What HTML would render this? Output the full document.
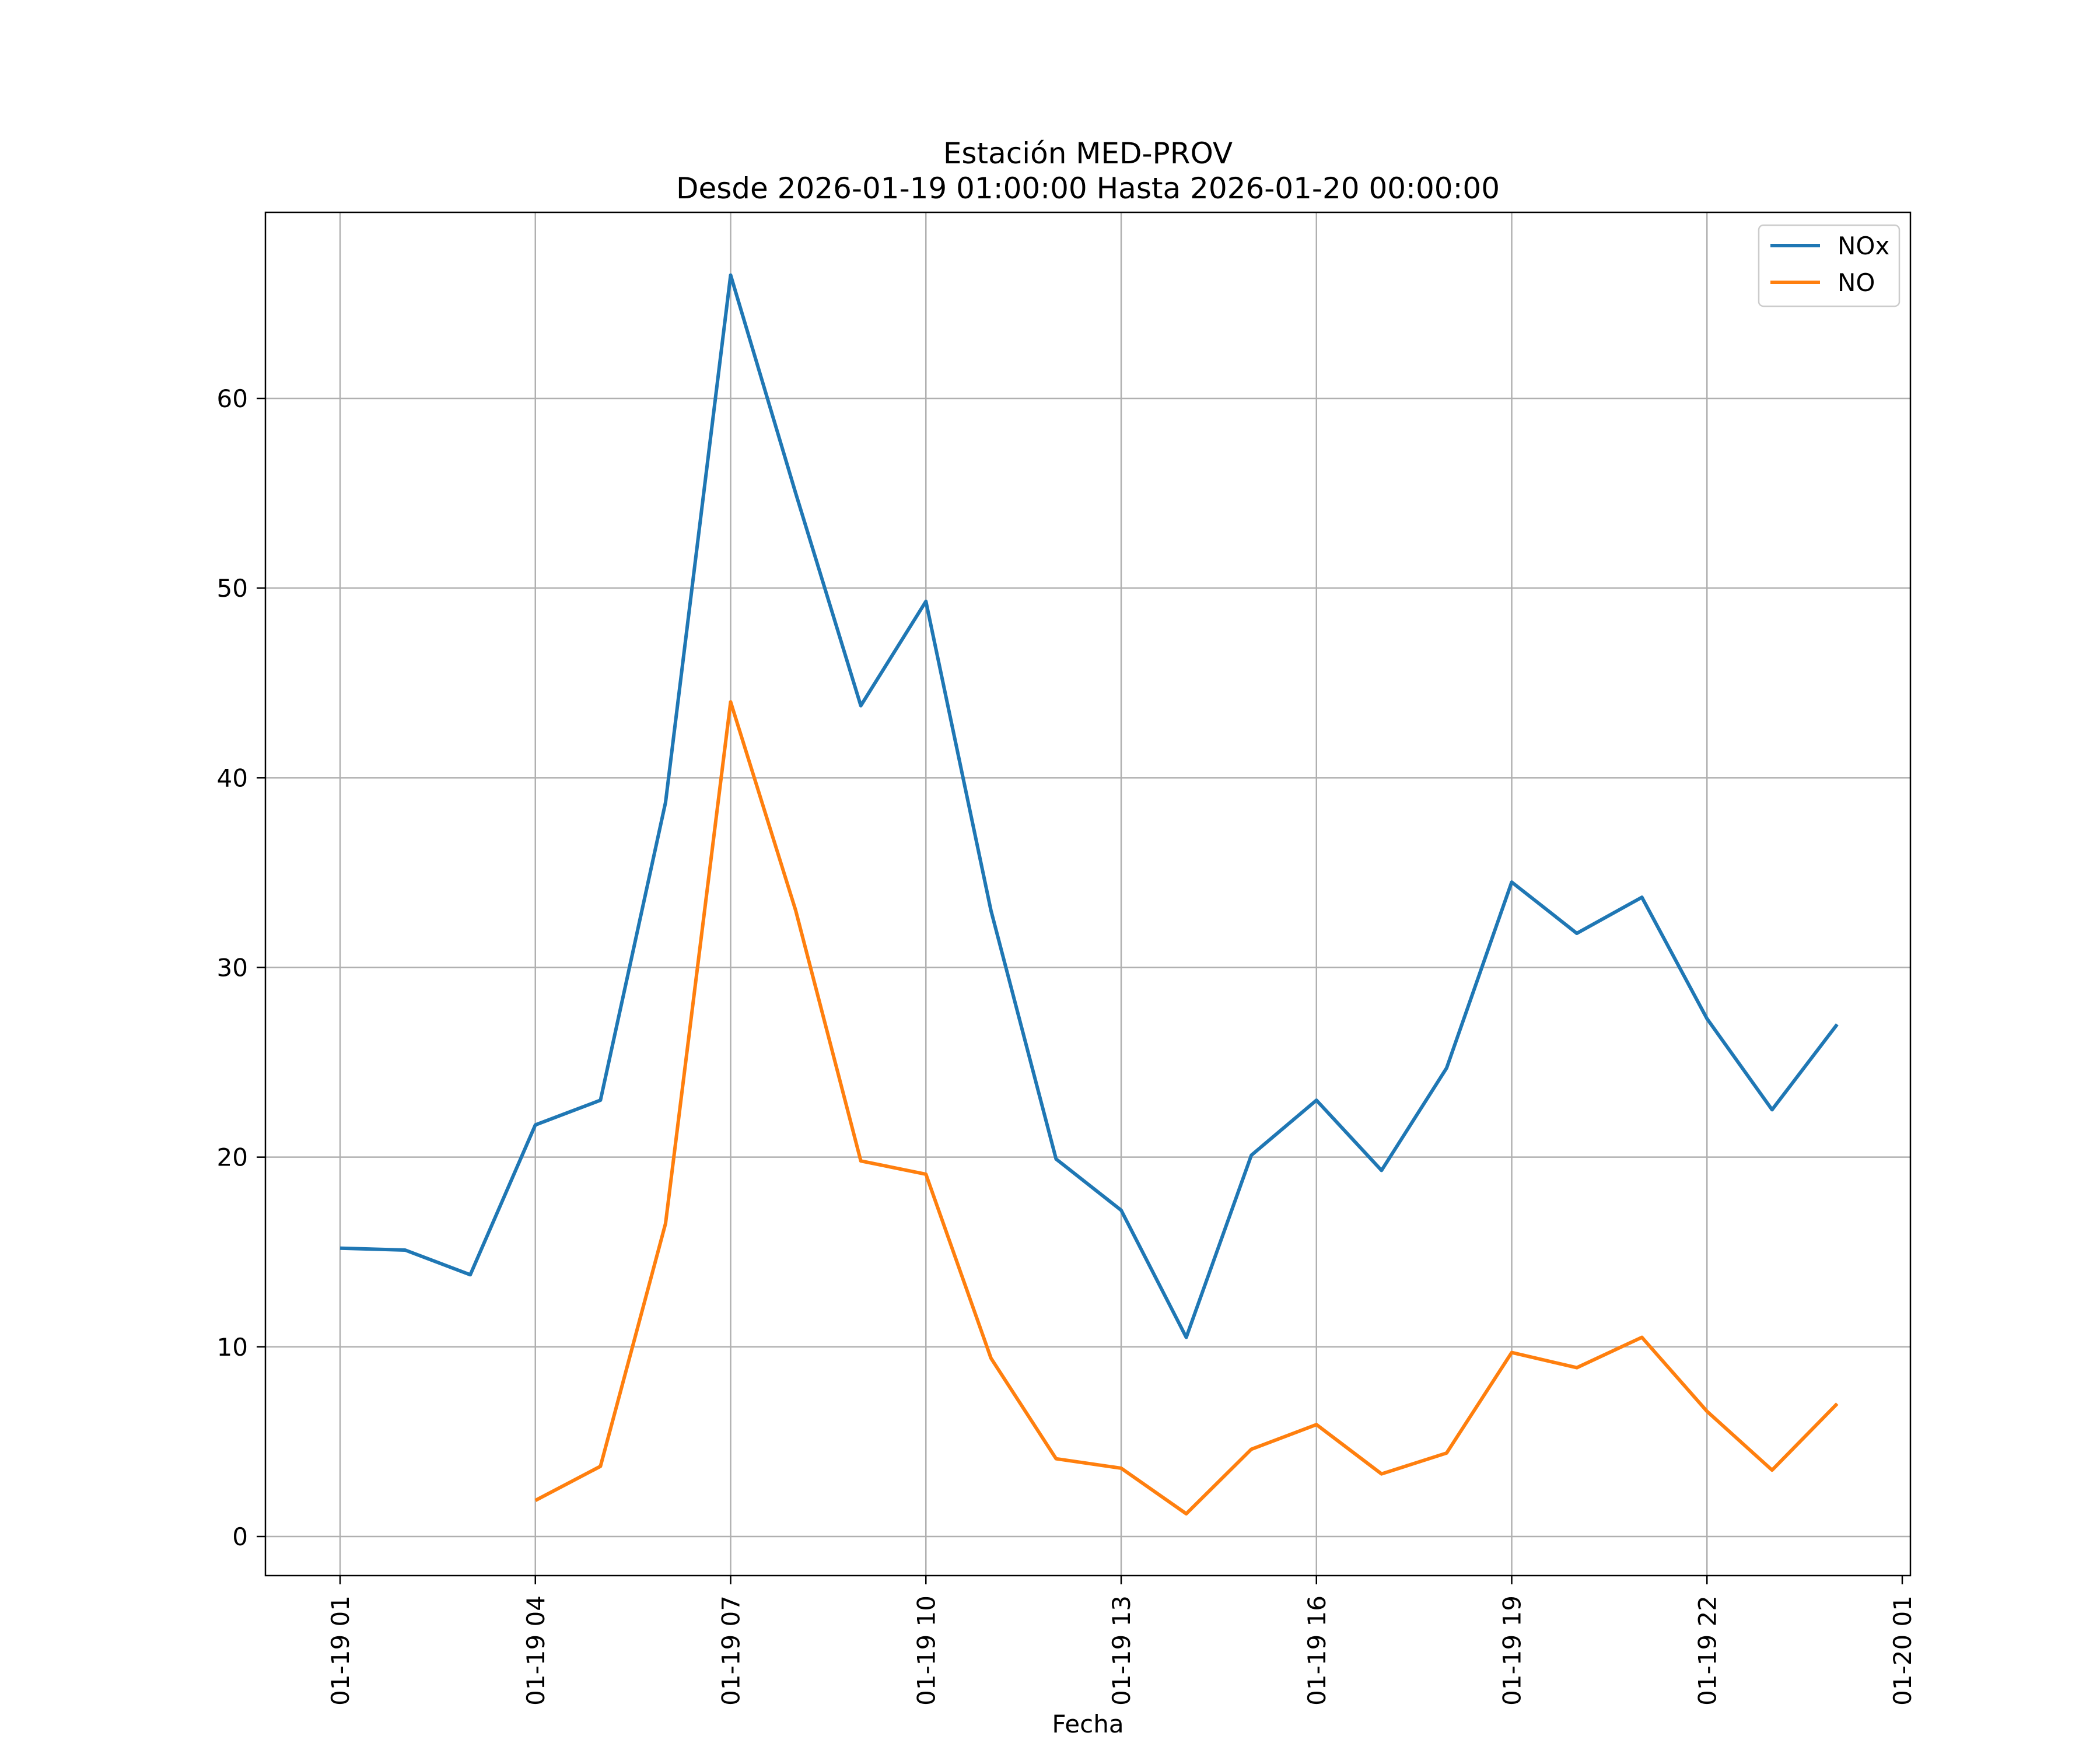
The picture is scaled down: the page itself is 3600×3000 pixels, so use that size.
<!DOCTYPE html>
<html><head><meta charset="utf-8"><style>
body{margin:0;background:#fff}
svg{display:block;font-family:"DejaVu Sans","Liberation Sans",sans-serif}
</style></head><body>
<svg id="chart" width="3600" height="3000" viewBox="0 0 3600 3000">
<rect width="3600" height="3000" fill="#fff"/>
<g id="grid"></g>
<g id="series"></g>
<rect x="455" y="364" width="2820" height="2337" fill="none" stroke="#000" stroke-width="2.5"/>
<g id="ticks"></g>
<text x="1865" y="280" font-size="50" text-anchor="middle">Estación MED-PROV</text>
<text x="1865" y="340" font-size="50" text-anchor="middle">Desde 2026-01-19 01:00:00 Hasta 2026-01-20 00:00:00</text>
<text x="1865" y="2970" font-size="42" text-anchor="middle">Fecha</text>
<g>
<rect x="3015" y="386" width="241" height="139" rx="8" fill="#fff" stroke="#ccc" stroke-width="2.5"/>
<line x1="3035" y1="421" x2="3120" y2="421" stroke="#1f77b4" stroke-width="6"/>
<text x="3150" y="436" font-size="42">NOx</text>
<line x1="3035" y1="484" x2="3120" y2="484" stroke="#ff7f0e" stroke-width="6"/>
<text x="3150" y="499" font-size="42">NO</text>
</g>
</svg>
<script>
const hours=[0,1,2,3,4,5,6,7,8,9,10,11,12,13,14,15,16,17,18,19,20,21,22,23];
const noxValues=[15.2,15.1,13.8,21.7,23.0,38.7,66.5,55.0,43.8,49.3,33.0,19.9,17.2,10.5,20.1,23.0,19.3,24.7,34.5,31.8,33.7,27.3,22.5,27.0];
const noValues=[null,null,null,1.9,3.7,16.5,44.0,33.0,19.8,19.1,9.4,4.1,3.6,1.2,4.6,5.9,3.3,4.4,9.7,8.9,10.5,6.6,3.5,7.0];
const yTicks=[0,10,20,30,40,50,60];
const xTickHours=[0,3,6,9,12,15,18,21,24];
const xTickLabels=["01-19 01","01-19 04","01-19 07","01-19 10","01-19 13","01-19 16","01-19 19","01-19 22","01-20 01"];
const NS="http://www.w3.org/2000/svg";
const X=h=>583+h*(3261-583)/24;
const Y=v=>2634-v*(2634-683)/60;
const grid=document.getElementById('grid'),ticks=document.getElementById('ticks'),series=document.getElementById('series');
function mk(tag,attrs,parent){const e=document.createElementNS(NS,tag);for(const k in attrs)e.setAttribute(k,attrs[k]);parent.appendChild(e);return e;}
yTicks.forEach(v=>{
 const g=mk('line',{x1:455,x2:3275,y1:Y(v),y2:Y(v),stroke:'#b0b0b0','stroke-width':2.5},grid);
 
 
 const t=mk('line',{x1:440,x2:455,y1:Y(v),y2:Y(v),stroke:'#000','stroke-width':2.5},ticks);
 
 
 const l=mk('text',{x:425,y:Y(v)+15,'font-size':42,'text-anchor':'end'},ticks);l.textContent=v;
 
 
});
xTickHours.forEach((h,i)=>{
 const x=X(h);
 if(h<24){const g=mk('line',{x1:x,x2:x,y1:364,y2:2701,stroke:'#b0b0b0','stroke-width':2.5},grid);
 
 }
 const t=mk('line',{x1:x,x2:x,y1:2701,y2:2716,stroke:'#000','stroke-width':2.5},ticks);
 
 
 const l=mk('text',{x:x+15,y:2735,'font-size':42,'text-anchor':'end',transform:`rotate(-90 ${x+15} 2735)`},ticks);l.textContent=xTickLabels[i];
 
 
});
function line(vals,color,name){
 const pts=[];vals.forEach((v,i)=>{if(v!==null)pts.push(X(hours[i])+','+Y(v));});
 const p=mk('polyline',{points:pts.join(' '),fill:'none',stroke:color,'stroke-width':6,'stroke-linejoin':'round'},series);
 
 
}
line(noxValues,'#1f77b4','nox-line');
line(noValues,'#ff7f0e','no-line');
</script>
</body></html>
